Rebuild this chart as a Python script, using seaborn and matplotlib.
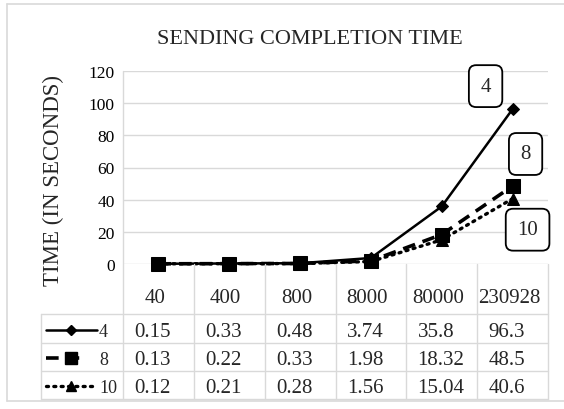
import numpy as np
import matplotlib
matplotlib.use("Agg")
import matplotlib.pyplot as plt
import matplotlib.transforms as mtransforms
from matplotlib.lines import Line2D
import seaborn as sns

# ---- data ----
categories = ["40", "400", "800", "8000", "80000", "230928"]
series_names = ["4", "8", "10"]
vals_4 = [0.15, 0.33, 0.48, 3.74, 35.8, 96.3]
vals_8 = [0.13, 0.22, 0.33, 1.98, 18.32, 48.5]
vals_10 = [0.12, 0.21, 0.28, 1.56, 15.04, 40.6]
table_text = {
    "4": ["0.15", "0.33", "0.48", "3.74", "35.8", "96.3"],
    "8": ["0.13", "0.22", "0.33", "1.98", "18.32", "48.5"],
    "10": ["0.12", "0.21", "0.28", "1.56", "15.04", "40.6"],
}
series_vals = {"4": vals_4, "8": vals_8, "10": vals_10}
yticks = [0, 20, 40, 60, 80, 100, 120]

sns.set_theme(style="white")
plt.rcParams["font.family"] = ["Liberation Serif", "DejaVu Serif"]

W, H = 564, 410
fig = plt.figure(figsize=(W / 100, H / 100), dpi=100)
fig.patch.set_facecolor("white")

def fx(px):
    return px / W

def fy(py):
    return 1 - py / H

GRID = "#d9d9d9"

# plot area
ax = fig.add_axes([fx(123), fy(265), fx(548) - fx(123), fy(72) - fy(265)])
ax.set_facecolor("white")
xpos = np.arange(len(categories))

styles = {
    "4": dict(marker="D", markersize=6.5, linestyle="-", linewidth=1.8, zorder=3),
    "8": dict(marker="s", markersize=10.5, linestyle=(0, (3.5, 2.2)), linewidth=2.6, zorder=5),
    "10": dict(marker="^", markersize=8.5, linestyle=(0, (0.6, 1.6)), linewidth=2.4, zorder=4,
               dash_capstyle="round"),
}
for name in series_names:
    st = dict(styles[name])
    sns.lineplot(x=xpos, y=series_vals[name], ax=ax, color="black",
                 markeredgecolor="black", clip_on=False, legend=False, **st)

ax.set_xlim(-0.5, len(categories) - 0.5)
ax.set_ylim(0, 120)
ax.set_yticks(yticks)
ax.set_yticklabels([str(t) for t in yticks], fontsize=12.5)
ax.set_xticks([])
ax.yaxis.grid(True, color=GRID, linewidth=1)
ax.xaxis.grid(False)
ax.tick_params(axis="y", length=0, pad=6, colors="black")
for s in ["top", "right", "bottom", "left"]:
    ax.spines[s].set_visible(False)
ax.set_xlabel("")
ax.set_ylabel("")

# series name callouts
offsets = {"4": (-27, 23), "8": (13, 32), "10": (15, -31)}
for name in series_names:
    ax.annotate(name, xy=(xpos[-1], series_vals[name][-1]), xytext=offsets[name],
                textcoords="offset pixels", ha="center", va="center", fontsize=15,
                bbox=dict(boxstyle="round,pad=0.55,rounding_size=0.35", fc="white",
                          ec="black", lw=1.3), zorder=6)

# title and y label
fig.text(fx(310), fy(44), "SENDING COMPLETION TIME", ha="center", va="baseline",
         fontsize=16)
fig.text(fx(53), fy(181), "TIME (IN SECONDS)", ha="center", va="center",
         rotation=90, fontsize=16.5)

# outer frame
frame_kw = dict(color=GRID, lw=1.2, transform=fig.transFigure)
fig.add_artist(Line2D([fx(7), fx(7)], [fy(5), fy(402)], **frame_kw))
fig.add_artist(Line2D([fx(7), 1], [fy(5), fy(5)], **frame_kw))
fig.add_artist(Line2D([fx(7), 1], [fy(402), fy(402)], **frame_kw))

# data table
bt = mtransforms.blended_transform_factory(ax.transData, fig.transFigure)
line_kw = dict(color=GRID, lw=1)
for b in np.arange(len(categories) + 1) - 0.5:
    top = 72 if b == -0.5 else 265
    fig.add_artist(Line2D([b, b], [fy(top), fy(400)], transform=bt, **line_kw))
row_lines = [315, 343.5, 372, 400]
for yl in row_lines:
    fig.add_artist(Line2D([fx(41), fx(548)], [fy(yl), fy(yl)],
                          transform=fig.transFigure, **line_kw))
fig.add_artist(Line2D([fx(41), fx(41)], [fy(315), fy(400)],
                      transform=fig.transFigure, **line_kw))

# header row
for i, c in enumerate(categories):
    fig.text(xpos[i] - 0.05, fy(303), c, transform=bt, ha="center", va="baseline",
             fontsize=15)

row_base = {"4": 337, "8": 365, "10": 393}
row_mid = {"4": 331, "8": 359, "10": 387}
key_ext = {"4": 97, "8": 87, "10": 94}
for name in series_names:
    for i, t in enumerate(table_text[name]):
        fig.text(xpos[i] - 0.5 + 0.16, fy(row_base[name]), t, transform=bt,
                 ha="left", va="baseline", fontsize=15)
    st = dict(styles[name])
    st.pop("zorder")
    ms = st.pop("markersize")
    key = Line2D([fx(46), fx(71), fx(key_ext[name])],
                 [fy(row_mid[name])] * 3, color="black", markevery=[1],
                 markersize=ms * 0.85, transform=fig.transFigure, **st)
    fig.add_artist(key)
    fig.text(fx(99), fy(row_base[name]), name, ha="left", va="baseline", fontsize=13)

fig.savefig("out.png", dpi=100, facecolor="white")
